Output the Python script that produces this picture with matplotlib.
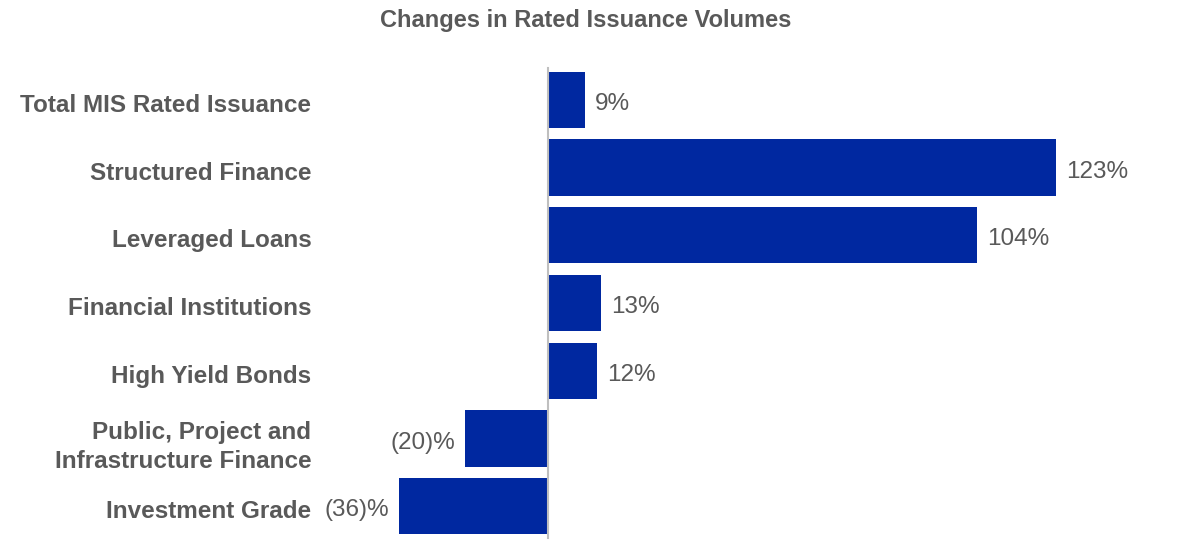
import matplotlib

matplotlib.use("Agg")

import matplotlib.pyplot as plt
import matplotlib.transforms as mtransforms

CATEGORIES = [
    "Total MIS Rated Issuance",
    "Structured Finance",
    "Leveraged Loans",
    "Financial Institutions",
    "High Yield Bonds",
    "Public, Project and\nInfrastructure Finance",
    "Investment Grade",
]
CHANGES = [9, 123, 104, 13, 12, -20, -36]

BAR_COLOR = "#0028A0"
TEXT_COLOR = "#595959"

plt.rcParams["font.family"] = ["Liberation Sans", "DejaVu Sans"]


def pct_label(value):
    if value < 0:
        return f"({abs(value)})%"
    return f"{value}%"


def main():
    fig = plt.figure(figsize=(12, 5.5), dpi=100)
    ax = fig.add_axes([0.263, 0.018, 0.72, 0.862])

    positions = list(range(len(CATEGORIES)))
    ax.barh(positions, CHANGES, height=0.83, color=BAR_COLOR)
    ax.set_ylim(len(CATEGORIES) - 0.5, -0.5)
    ax.set_xlim(-56.2, 153)

    for pos, value in zip(positions, CHANGES):
        if value >= 0:
            ax.annotate(pct_label(value), (value, pos), xytext=(10, -4),
                        textcoords="offset pixels", ha="left", va="center",
                        fontsize=17.5, color=TEXT_COLOR)
        else:
            ax.annotate(pct_label(value), (value, pos), xytext=(-10, -4),
                        textcoords="offset pixels", ha="right", va="center",
                        fontsize=17.5, color=TEXT_COLOR)

    ax.axvline(0, ymin=0.005, ymax=0.995, color="#BFBFBF", linewidth=1.5)

    ax.set_yticks(positions)
    ax.set_yticklabels(CATEGORIES, fontsize=17.5, fontweight="bold",
                       color=TEXT_COLOR, linespacing=1.35)
    ax.tick_params(axis="y", length=0, pad=3)
    # nudge the category labels a few pixels down, as in the reference
    shift = mtransforms.ScaledTranslation(0, -3 / 100, fig.dpi_scale_trans)
    for label in ax.get_yticklabels():
        label.set_transform(label.get_transform() + shift)
    ax.set_xticks([])
    for spine in ax.spines.values():
        spine.set_visible(False)

    fig.text(0.488, 0.963, "Changes in Rated Issuance Volumes", ha="center",
             va="center", fontsize=17, fontweight="bold", color=TEXT_COLOR)

    fig.savefig("out.png", dpi=100)
    plt.close(fig)


if __name__ == "__main__":
    main()
